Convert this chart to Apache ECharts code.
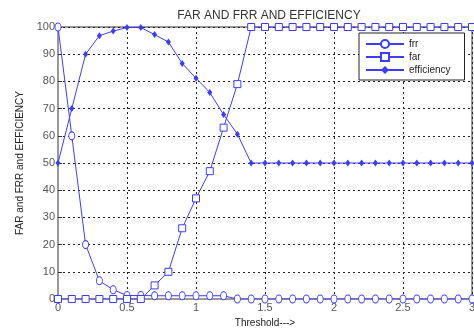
<!DOCTYPE html>
<html>
<head>
<meta charset="utf-8">
<script src="https://cdn.jsdelivr.net/npm/echarts@6/dist/echarts.min.js"></script>
<style>
html, body { margin: 0; padding: 0; background: #fff; }
#chartContainer { width: 474px; height: 328px; }
</style>
</head>
<body>
<div id="chartContainer"></div>
<script>
// threshold steps 0 .. 3 by 0.1
const thresholds = [0, 0.1, 0.2, 0.3, 0.4, 0.5, 0.6, 0.7, 0.8, 0.9, 1.0,
    1.1, 1.2, 1.3, 1.4, 1.5, 1.6, 1.7, 1.8, 1.9, 2.0,
    2.1, 2.2, 2.3, 2.4, 2.5, 2.6, 2.7, 2.8, 2.9, 3.0];

const frr = [100, 60, 20, 6.7, 3.4, 1.3, 1.3, 1.2, 1.2, 1.2, 1.2,
    1.2, 1.2, 0, 0, 0, 0, 0, 0, 0, 0,
    0, 0, 0, 0, 0, 0, 0, 0, 0, 0];

const far = [0, 0, 0, 0, 0, 0, 0, 5, 10, 26, 37,
    47, 63, 79, 100, 100, 100, 100, 100, 100, 100,
    100, 100, 100, 100, 100, 100, 100, 100, 100, 100];

const efficiency = [50, 70, 90, 96.8, 98.5, 99.8, 99.8, 97.2, 94.5, 86.6, 81.2,
    75.9, 67.8, 60.6, 50, 50, 50, 50, 50, 50, 50,
    50, 50, 50, 50, 50, 50, 50, 50, 50, 50];

const xTicks = [0, 0.5, 1, 1.5, 2, 2.5, 3];

function toPairs(values) {
    return thresholds.map((t, i) => [t, values[i]]);
}

const blue = '#3c3cff';
const myChart = echarts.init(document.getElementById('chartContainer'));

const option = {
    animation: false,
    title: {
        text: 'FAR AND FRR AND EFFICIENCY',
        left: 264, top: 5, textAlign: 'center',
        textStyle: { fontSize: 12, fontWeight: 'normal', color: '#333', fontFamily: 'Liberation Sans' }
    },
    legend: {
        orient: 'vertical',
        left: 359, top: 33,
        padding: [6, 14, 5, 6],
        itemGap: 3,
        itemWidth: 38, itemHeight: 10,
        borderColor: '#222', borderWidth: 1,
        backgroundColor: '#fff',
        textStyle: { fontSize: 10, color: '#222', fontFamily: 'Liberation Sans' },
        data: ['frr', 'far', 'efficiency']
    },
    grid: {
        left: 58, right: 2, top: 27, bottom: 29,
        outerBoundsMode: 'none',
        show: true, borderColor: '#333', borderWidth: 1
    },
    xAxis: {
        type: 'value', min: 0, max: 3, interval: 0.5,
        name: 'Threshold--->', nameLocation: 'middle', nameGap: 17,
        nameTextStyle: { fontSize: 10, color: '#222', fontFamily: 'Liberation Sans' },
        axisLine: { lineStyle: { color: '#999', width: 2 } },
        axisTick: { inside: true, length: 4, lineStyle: { color: '#333' } },
        axisLabel: {
            fontSize: 11, color: '#555', margin: 3, fontFamily: 'Liberation Sans',
            formatter: v => xTicks.includes(v) ? String(v) : ''
        },
        splitLine: { show: true, lineStyle: { color: '#222', type: [2, 3], width: 1 } }
    },
    yAxis: {
        type: 'value', min: 0, max: 100, interval: 10,
        name: 'FAR and FRR and EFFICIENCY', nameLocation: 'middle', nameGap: 33,
        nameTextStyle: { fontSize: 10, color: '#222', fontFamily: 'Liberation Sans' },
        axisLine: { lineStyle: { color: '#999', width: 2 } },
        axisTick: { inside: true, length: 4, lineStyle: { color: '#333' } },
        axisLabel: { fontSize: 11, color: '#555', margin: 3, fontFamily: 'Liberation Sans' },
        splitLine: { show: true, lineStyle: { color: '#222', type: [2, 3], width: 1 } }
    },
    series: [
        {
            name: 'frr', type: 'line', data: toPairs(frr),
            symbol: 'circle', symbolSize: [6, 8],
            itemStyle: { color: '#fff', borderColor: blue, borderWidth: 1 },
            lineStyle: { color: blue, width: 1 }
        },
        {
            name: 'far', type: 'line', data: toPairs(far),
            symbol: 'rect', symbolSize: [7, 7],
            itemStyle: { color: '#fff', borderColor: blue, borderWidth: 1 },
            lineStyle: { color: blue, width: 1 }
        },
        {
            name: 'efficiency', type: 'line', data: toPairs(efficiency),
            symbol: 'diamond', symbolSize: [5, 7],
            itemStyle: { color: blue },
            lineStyle: { color: blue, width: 1 }
        }
    ]
};

myChart.setOption(option);
</script>
</body>
</html>
